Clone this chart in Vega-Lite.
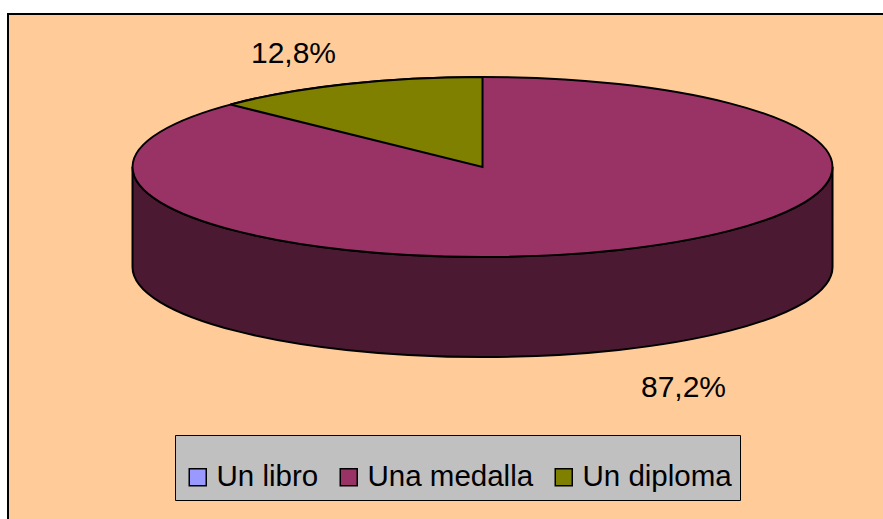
{
  "$schema": "https://vega.github.io/schema/vega-lite/v6.json",
  "width": 877,
  "height": 507,
  "autosize": {"type": "none"},
  "padding": {"left": 8, "top": 14, "right": -2, "bottom": -2},
  "background": "white",
  "view": {"fill": "#FFCC99", "stroke": "black", "strokeWidth": 2},
  "config": {
    "font": "Liberation Sans",
    "locale": {"number": {"decimal": ",", "thousands": ".", "grouping": [3], "currency": ["", " €"]}}
  },
  "data": {
    "values": [
      {"premio": "Un libro", "share": 0},
      {"premio": "Una medalla", "share": 0.872},
      {"premio": "Un diploma", "share": 0.128}
    ]
  },
  "layer": [
    {
      "transform": [{"filter": "datum.premio === 'Una medalla'"}],
      "mark": {
        "type": "point",
        "filled": true,
        "shape": "M -0.8971 -0.2871 L -0.8971 -0.0014 C -0.8971 0.1406 -0.4494 0.2557 0.1029 0.2557 C 0.6552 0.2557 1.1029 0.1406 1.1029 -0.0014 L 1.1029 -0.2871 C 1.1029 -0.1451 0.6552 -0.03 0.1029 -0.03 C -0.4494 -0.03 -0.8971 -0.1451 -0.8971 -0.2871 Z",
        "size": 490000,
        "fill": "#4C1933",
        "stroke": "black",
        "strokeWidth": 2,
        "opacity": 1
      },
      "encoding": {}
    },
    {
      "transform": [{"filter": "datum.premio === 'Una medalla'"}],
      "mark": {
        "type": "point",
        "filled": true,
        "shape": "M -0.8971 -0.2871 C -0.8971 -0.4291 -0.4494 -0.5443 0.1029 -0.5443 C 0.6552 -0.5443 1.1029 -0.4291 1.1029 -0.2871 C 1.1029 -0.1451 0.6552 -0.03 0.1029 -0.03 C -0.4494 -0.03 -0.8971 -0.1451 -0.8971 -0.2871 Z",
        "size": 490000,
        "stroke": "black",
        "strokeWidth": 2,
        "opacity": 1
      },
      "encoding": {
        "color": {
          "field": "premio",
          "type": "nominal",
          "scale": {"domain": ["Un libro", "Una medalla", "Un diploma"], "range": ["#9999FF", "#993366", "#808000"]},
          "legend": {
            "orient": "none",
            "legendX": 167,
            "legendY": 421,
            "direction": "horizontal",
            "title": " ",
            "titleFontSize": 10,
            "titlePadding": 9,
            "fillColor": "#C0C0C0",
            "strokeColor": "black",
            "padding": 8,
            "symbolType": "square",
            "symbolSize": 289,
            "symbolStrokeColor": "black",
            "symbolStrokeWidth": 1.5,
            "symbolOpacity": 1,
            "labelFontSize": 29.5,
            "labelFont": "Liberation Sans",
            "labelColor": "black",
            "labelOffset": 4,
            "columnPadding": 15,
            "labelLimit": 1000
          }
        }
      }
    },
    {
      "transform": [{"filter": "datum.premio === 'Un diploma'"}],
      "mark": {
        "type": "point",
        "filled": true,
        "shape": "M 0.1029 -0.2871 L 0.1029 -0.5443 C -0.1689 -0.5443 -0.4286 -0.5159 -0.6172 -0.4655 Z",
        "size": 490000,
        "stroke": "black",
        "strokeWidth": 2,
        "opacity": 1
      },
      "encoding": {
        "color": {"field": "premio", "type": "nominal"}
      }
    },
    {
      "transform": [{"filter": "datum.premio === 'Un diploma'"}],
      "mark": {"type": "text", "font": "Liberation Sans", "fontSize": 30, "color": "black", "align": "center", "baseline": "alphabetic", "dx": -153, "dy": -204.5},
      "encoding": {"text": {"field": "share", "type": "quantitative", "format": ".1%"}}
    },
    {
      "transform": [{"filter": "datum.premio === 'Una medalla'"}],
      "mark": {"type": "text", "font": "Liberation Sans", "fontSize": 30, "color": "black", "align": "center", "baseline": "alphabetic", "dx": 237, "dy": 129.5},
      "encoding": {"text": {"field": "share", "type": "quantitative", "format": ".1%"}}
    }
  ]
}
